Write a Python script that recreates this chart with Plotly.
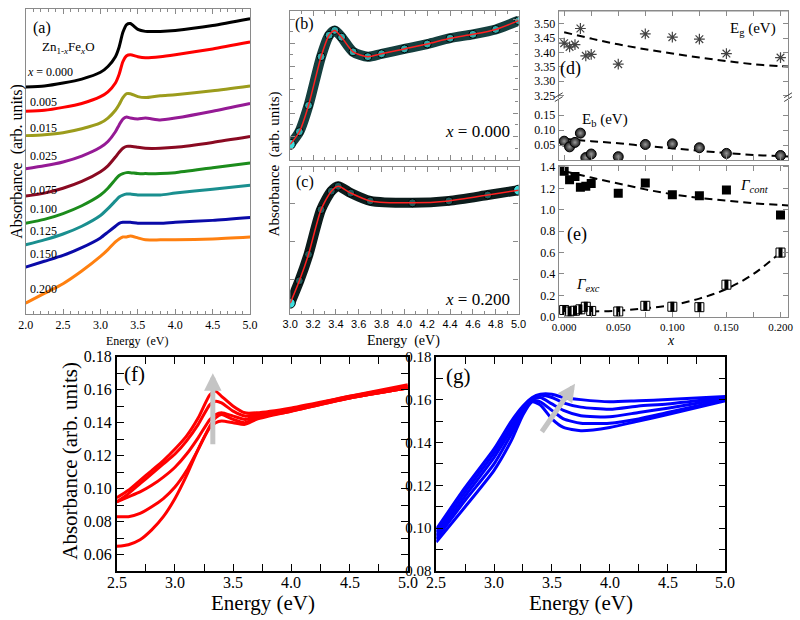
import plotly.graph_objects as go

W, H = 800, 620
def PX(x): return x / W
def PY(y): return 1 - y / H

SERIF = "Liberation Serif, Times New Roman, serif"
SANS = "Liberation Sans, Arial, sans-serif"

# ---------------- panel (a) data ----------------
e_a = [2.0, 2.25, 2.5, 2.75, 3.0, 3.1, 3.2, 3.25, 3.3, 3.35, 3.4, 3.5, 3.6, 3.8, 4.0, 4.5, 5.0]
a_000 = [2.33, 2.34, 2.37, 2.41, 2.48, 2.54, 2.64, 2.74, 2.89, 2.97, 2.98, 2.92, 2.90, 2.90, 2.91, 2.96, 3.03]
a_005 = [2.08, 2.09, 2.12, 2.16, 2.23, 2.28, 2.37, 2.46, 2.59, 2.65, 2.66, 2.64, 2.63, 2.64, 2.66, 2.72, 2.79]
a_015 = [1.83, 1.84, 1.86, 1.90, 1.96, 2.01, 2.09, 2.15, 2.22, 2.26, 2.26, 2.23, 2.22, 2.24, 2.25, 2.29, 2.34]
a_025 = [1.49, 1.52, 1.56, 1.62, 1.71, 1.77, 1.87, 1.94, 2.00, 2.02, 2.01, 2.00, 2.01, 1.99, 2.01, 2.08, 2.16]
a_075 = [1.21, 1.24, 1.29, 1.36, 1.46, 1.52, 1.61, 1.66, 1.70, 1.72, 1.72, 1.71, 1.70, 1.70, 1.71, 1.76, 1.82]
a_100 = [0.93, 0.97, 1.03, 1.11, 1.22, 1.29, 1.38, 1.42, 1.44, 1.45, 1.45, 1.44, 1.44, 1.44, 1.45, 1.50, 1.55]
a_125 = [0.71, 0.76, 0.82, 0.90, 1.01, 1.08, 1.16, 1.20, 1.22, 1.23, 1.23, 1.22, 1.22, 1.22, 1.24, 1.28, 1.32]
a_150 = [0.48, 0.54, 0.60, 0.68, 0.78, 0.84, 0.90, 0.93, 0.94, 0.94, 0.94, 0.93, 0.93, 0.93, 0.94, 0.96, 0.99]
a_200 = [0.11, 0.21, 0.31, 0.44, 0.59, 0.66, 0.74, 0.77, 0.79, 0.79, 0.80, 0.78, 0.76, 0.76, 0.76, 0.77, 0.79]
a_series = [a_000, a_005, a_015, a_025, a_075, a_100, a_125, a_150, a_200]
a_labels = ["<i>x</i> = 0.000", "0.005", "0.015", "0.025", "0.075", "0.100", "0.125", "0.150", "0.200"]
a_colors = ["#000000", "#ff0000", "#9c9c1c", "#951a95", "#8a0a22", "#1c8c1c", "#1a8f8f", "#0a0aa8", "#ff8010"]

# ---------------- panels (b), (c) ----------------
e_b = [3.0, 3.08, 3.16, 3.27, 3.34, 3.39, 3.45, 3.55, 3.68, 3.8, 4.0, 4.2, 4.4, 4.6, 4.8, 5.0]
abs_b = [0.16, 0.29, 0.56, 1.06, 1.28, 1.33, 1.26, 1.11, 1.06, 1.09, 1.14, 1.19, 1.25, 1.29, 1.34, 1.43]
e_c = [3.0, 3.08, 3.16, 3.27, 3.36, 3.42, 3.53, 3.7, 4.07, 4.39, 4.73, 5.0]
abs_c = [0.11, 0.34, 0.61, 1.07, 1.26, 1.31, 1.24, 1.16, 1.14, 1.16, 1.22, 1.27]

# ---------------- panels (d), (e) ----------------
x_conc = [0.0, 0.005, 0.010, 0.015, 0.020, 0.025, 0.050, 0.075, 0.100, 0.125, 0.150, 0.200]
eg = [3.432, 3.419, 3.427, 3.483, 3.388, 3.393, 3.359, 3.464, 3.453, 3.446, 3.396, 3.382]
eb = [0.063, 0.044, 0.059, 0.090, 0.008, 0.020, 0.011, 0.052, 0.054, 0.041, 0.022, 0.015]
g_cont = [1.36, 1.28, 1.31, 1.21, 1.22, 1.245, 1.155, 1.25, 1.14, 1.13, 1.185, 0.95]
g_exc = [0.064, 0.050, 0.057, 0.070, 0.094, 0.055, 0.050, 0.103, 0.094, 0.090, 0.30, 0.60]
x_fit = [0.0, 0.025, 0.05, 0.075, 0.1, 0.125, 0.15, 0.175, 0.2, 0.207]
eg_fit = [3.470, 3.448, 3.428, 3.411, 3.396, 3.382, 3.370, 3.359, 3.352, 3.351]
eb_fit = [0.071, 0.063, 0.056, 0.047, 0.039, 0.031, 0.023, 0.017, 0.013, 0.012]
gcont_fit = [1.36, 1.30, 1.245, 1.19, 1.145, 1.11, 1.085, 1.06, 1.045, 1.04]
x_fit_exc = [0.025, 0.05, 0.075, 0.1, 0.125, 0.15, 0.175, 0.2]
gexc_fit = [0.050, 0.058, 0.080, 0.110, 0.170, 0.260, 0.400, 0.600]

# ---------------- panel (f) ----------------
e_f = [2.5, 2.6, 2.7, 2.8, 2.9, 3.0, 3.1, 3.2, 3.3, 3.35, 3.4, 3.5, 3.6, 3.7, 4.0, 4.5, 5.0]
f1 = [0.0945, 0.099, 0.105, 0.111, 0.117, 0.124, 0.132, 0.143, 0.157, 0.159, 0.156, 0.150, 0.146, 0.146, 0.149, 0.156, 0.163]
f2 = [0.092, 0.097, 0.103, 0.109, 0.115, 0.121, 0.129, 0.139, 0.151, 0.153, 0.152, 0.147, 0.144, 0.145, 0.148, 0.156, 0.162]
f3 = [0.092, 0.095, 0.098, 0.102, 0.107, 0.113, 0.121, 0.131, 0.142, 0.145, 0.146, 0.144, 0.142, 0.144, 0.148, 0.155, 0.161]
f4 = [0.083, 0.083, 0.085, 0.089, 0.094, 0.101, 0.111, 0.124, 0.138, 0.143, 0.145, 0.142, 0.140, 0.143, 0.147, 0.155, 0.161]
f5 = [0.065, 0.066, 0.069, 0.075, 0.083, 0.094, 0.108, 0.124, 0.137, 0.140, 0.141, 0.140, 0.139, 0.142, 0.147, 0.155, 0.161]
f_series = [f1, f2, f3, f4, f5]

# ---------------- panel (g) ----------------
e_g = [2.5, 2.75, 3.0, 3.15, 3.25, 3.33, 3.4, 3.5, 3.6, 3.75, 4.0, 4.25, 4.5, 5.0]
g1 = [0.0995, 0.119, 0.137, 0.150, 0.157, 0.161, 0.1625, 0.1625, 0.161, 0.160, 0.159, 0.1595, 0.160, 0.1615]
g2 = [0.098, 0.117, 0.135, 0.148, 0.156, 0.1605, 0.162, 0.161, 0.1585, 0.1565, 0.1555, 0.157, 0.158, 0.161]
g3 = [0.0965, 0.115, 0.133, 0.146, 0.155, 0.160, 0.161, 0.158, 0.155, 0.1525, 0.152, 0.154, 0.156, 0.1605]
g4 = [0.095, 0.113, 0.130, 0.144, 0.154, 0.1595, 0.159, 0.155, 0.151, 0.149, 0.149, 0.151, 0.154, 0.160]
g5 = [0.0935, 0.110, 0.127, 0.141, 0.153, 0.159, 0.1575, 0.151, 0.147, 0.1455, 0.147, 0.150, 0.153, 0.1595]
g_series = [g1, g2, g3, g4, g5]

# x tick labels of (f) and (g)
fg_xticks = [2.5, 3.0, 3.5, 4.0, 4.5, 5.0]

fig = go.Figure()

# (a)
for ys, c in zip(a_series, a_colors):
    fig.add_trace(go.Scatter(x=e_a, y=ys, mode="lines", line=dict(color=c, width=3, shape="spline", smoothing=0.6),
                             xaxis="x", yaxis="y", showlegend=False))
# (b)
fig.add_trace(go.Scatter(x=e_b, y=abs_b, mode="lines", line=dict(color="#153f3f", width=10, shape="spline", smoothing=0.7),
                         xaxis="x2", yaxis="y2", showlegend=False))
fig.add_trace(go.Scatter(x=e_b, y=abs_b, mode="markers", marker=dict(size=8, color="#2fa8a8", line=dict(color="#000", width=1)),
                         xaxis="x2", yaxis="y2", showlegend=False))
fig.add_trace(go.Scatter(x=[e_b[0]], y=[abs_b[0]], mode="markers",
                         marker=dict(size=10, color="#40dede", line=dict(color="#000", width=1)),
                         xaxis="x2", yaxis="y2", showlegend=False))
fig.add_trace(go.Scatter(x=e_b, y=abs_b, mode="lines", line=dict(color="#ff2020", width=1.5, shape="spline", smoothing=0.7),
                         xaxis="x2", yaxis="y2", showlegend=False))
# (c)
fig.add_trace(go.Scatter(x=e_c, y=abs_c, mode="lines", line=dict(color="#0c1c1c", width=10, shape="spline", smoothing=0.7),
                         xaxis="x3", yaxis="y3", showlegend=False))
fig.add_trace(go.Scatter(x=e_c, y=abs_c, mode="markers", marker=dict(size=8, color="#1f5a5a", line=dict(color="#000", width=1)),
                         xaxis="x3", yaxis="y3", showlegend=False))
fig.add_trace(go.Scatter(x=[e_c[0], e_c[-1]], y=[abs_c[0], abs_c[-1]], mode="markers",
                         marker=dict(size=10, color="#40dede", line=dict(color="#000", width=1)),
                         xaxis="x3", yaxis="y3", showlegend=False))
fig.add_trace(go.Scatter(x=e_c, y=abs_c, mode="lines", line=dict(color="#ff2020", width=1.5, shape="spline", smoothing=0.7),
                         xaxis="x3", yaxis="y3", showlegend=False))
# (d) upper: Eg
fig.add_trace(go.Scatter(x=x_fit, y=eg_fit, mode="lines", line=dict(color="#000", width=2, dash="8px,5px", shape="spline"),
                         xaxis="x5", yaxis="y5", showlegend=False))
fig.add_trace(go.Scatter(x=x_conc, y=eg, mode="markers",
                         marker=dict(symbol="asterisk-open", size=9, color="#444", line=dict(color="#444", width=1.2)),
                         xaxis="x5", yaxis="y5", showlegend=False))
# (d) lower: Eb
fig.add_trace(go.Scatter(x=x_fit, y=eb_fit, mode="lines", line=dict(color="#000", width=2, dash="8px,5px", shape="spline"),
                         xaxis="x4", yaxis="y4", showlegend=False))
fig.add_trace(go.Scatter(x=x_conc, y=eb, mode="markers",
                         marker=dict(symbol="circle", size=10, color="#1a1a1a", gradient=dict(type="radial", color="#9a9a9a"),
                                     line=dict(color="#000", width=1)),
                         xaxis="x4", yaxis="y4", showlegend=False))
# (e)
fig.add_trace(go.Scatter(x=x_fit, y=gcont_fit, mode="lines", line=dict(color="#000", width=2, dash="8px,5px", shape="spline"),
                         xaxis="x6", yaxis="y6", showlegend=False))
fig.add_trace(go.Scatter(x=x_fit_exc, y=gexc_fit, mode="lines", line=dict(color="#000", width=2, dash="8px,5px", shape="spline"),
                         xaxis="x6", yaxis="y6", showlegend=False))
fig.add_trace(go.Scatter(x=x_conc, y=g_cont, mode="markers", marker=dict(symbol="square", size=9, color="#000"),
                         xaxis="x6", yaxis="y6", showlegend=False))
fig.add_trace(go.Scatter(x=x_conc, y=g_exc, mode="markers",
                         marker=dict(symbol="square", size=9, color="#ffffff", line=dict(color="#000", width=1)),
                         xaxis="x6", yaxis="y6", showlegend=False))
fig.add_trace(go.Scatter(x=x_conc, y=g_exc, mode="markers",
                         marker=dict(symbol="line-ns", size=7, line=dict(color="#000", width=4)),
                         xaxis="x6", yaxis="y6", showlegend=False))
# (f)
for ys in f_series:
    fig.add_trace(go.Scatter(x=e_f, y=ys, mode="lines", line=dict(color="#ff0000", width=3, shape="spline", smoothing=0.6),
                             xaxis="x7", yaxis="y7", showlegend=False))
# (g)
for ys in g_series:
    fig.add_trace(go.Scatter(x=e_g, y=ys, mode="lines", line=dict(color="#0000ff", width=3, shape="spline", smoothing=0.6),
                             xaxis="x8", yaxis="y8", showlegend=False))

GRAY = "#8a8a8a"

def axis(domain, rng, anchor, color=GRAY, font=None, labels=True, ticks="inside", mirror="ticks", **kw):
    d = dict(domain=domain, range=rng, anchor=anchor, showgrid=False, zeroline=False,
             showline=True, linecolor=color, linewidth=1.2, mirror=mirror,
             ticks=ticks, ticklen=5, tickwidth=1, tickcolor=color,
             showticklabels=labels, tickfont=font or dict(family=SERIF, size=12, color="#000"))
    d.update(kw)
    return d

fa = dict(family=SERIF, size=12, color="#000")
fbc = dict(family=SANS, size=11, color="#000")
fd = dict(family=SERIF, size=12, color="#000")
ffg = dict(family=SERIF, size=16, color="#000")
fg8 = dict(family=SERIF, size=15, color="#000")

layout = dict(
    width=W, height=H, margin=dict(l=0, r=0, t=0, b=0),
    font=dict(family=SERIF, size=12, color="#000"),
    paper_bgcolor="white", plot_bgcolor="white", showlegend=False,
    # (a)
    xaxis=axis([PX(18), PX(247)], [2.0, 5.0], "y", font=fa, dtick=0.5, tickformat=".1f",
               minor=dict(dtick=0.1, ticks="inside", ticklen=3, tickcolor=GRAY)),
    yaxis=axis([PY(314), PY(1)], [0, 3.13], "x", ticks="", labels=False, mirror=True),
    # (b)
    xaxis2=axis([PX(288), PX(521)], [3.0, 5.0], "y2", labels=False, dtick=0.2,
                minor=dict(dtick=0.1, ticks="inside", ticklen=3, tickcolor=GRAY)),
    yaxis2=axis([PY(156), PY(3)], [0, 1.53], "x2", labels=False, tick0=0, dtick=0.24,
                minor=dict(dtick=0.12, ticks="inside", ticklen=3, tickcolor=GRAY)),
    # (c)
    xaxis3=axis([PX(288), PX(521)], [3.0, 5.0], "y3", font=fbc, dtick=0.2, tickformat=".1f",
                minor=dict(dtick=0.1, ticks="inside", ticklen=3, tickcolor=GRAY)),
    yaxis3=axis([PY(314), PY(163)], [0, 1.51], "x3", labels=False, tick0=0.35, dtick=0.39),
    # (d) lower
    xaxis4=axis([PX(562), PX(796)], [-0.005, 0.207], "y4", labels=False, mirror=False, tick0=0, dtick=0.025),
    yaxis4=axis([PY(156), PY(94)], [0, 0.2026], "x4", font=fd, tickvals=[0.05, 0.10, 0.15], tickformat=".2f"),
    # (d) upper
    xaxis5=axis([PX(562), PX(796)], [-0.005, 0.207], "y5", labels=False, mirror=False, side="top", tick0=0, dtick=0.025),
    yaxis5=axis([PY(92), PY(3)], [3.243, 3.544], "x5", font=fd, tickvals=[3.25, 3.30, 3.35, 3.40, 3.45, 3.50],
                tickformat=".2f"),
    # (e)
    xaxis6=axis([PX(562), PX(796)], [-0.005, 0.207], "y6", font=dict(family=SERIF, size=11, color="#000"),
                tickvals=[0.0, 0.05, 0.1, 0.15, 0.2], tickformat=".3f",
                minor=dict(tickvals=[0.025, 0.075, 0.125, 0.175], ticks="inside", ticklen=5, tickcolor=GRAY)),
    yaxis6=axis([PY(317), PY(162)], [0, 1.41], "x6", font=fd, dtick=0.2, tickformat=".1f"),
    # (f)
    xaxis7=axis([PX(111), PX(408)], [2.5, 5.0], "y7", color="#000", labels=False, tickvals=fg_xticks,
                linewidth=1.5, ticklen=7, minor=dict(dtick=0.25, ticks="inside", ticklen=7, tickcolor="#000")),
    yaxis7=axis([PY(578), PY(358)], [0.05, 0.18], "x7", color="#000", font=ffg, tick0=0.06, dtick=0.02,
                tickformat=".2f", linewidth=1.5, ticklen=7,
                minor=dict(dtick=0.01, ticks="inside", ticklen=7, tickcolor="#000")),
    # (g)
    xaxis8=axis([PX(437), PX(732)], [2.5, 5.0], "y8", color="#000", labels=False, tickvals=fg_xticks,
                linewidth=1.5, ticklen=7, minor=dict(dtick=0.25, ticks="inside", ticklen=7, tickcolor="#000")),
    yaxis8=axis([PY(578), PY(358)], [0.08, 0.18], "x8", color="#000", font=fg8, dtick=0.02,
                tickformat=".2f", linewidth=1.5, ticklen=7,
                minor=dict(dtick=0.01, ticks="inside", ticklen=7, tickcolor="#000")),
)
fig.update_layout(**layout)

ann = []
def note(x, y, text, size=12, xanchor="center", yanchor="middle", angle=0, family=SERIF):
    ann.append(dict(x=PX(x), y=PY(y), xref="paper", yref="paper", text=text, showarrow=False,
                    xanchor=xanchor, yanchor=yanchor, textangle=angle,
                    font=dict(family=family, size=size, color="#000")))

# (a) texts
note(35, 21, "(a)", 16)
note(62, 41, "Zn<sub>1-<i>x</i></sub>Fe<sub><i>x</i></sub>O", 13)
lab_y = [66, 97, 123, 152, 187, 206, 229, 253, 288]
for i, (t, yy) in enumerate(zip(a_labels, lab_y)):
    note(17 if i == 0 else 20, yy, t, 12, xanchor="left")
note(132, 342, "Energy  (eV)", 12)
note(9, 157, "Absorbance  (arb. units)", 16, angle=-90)
# (b),(c)
note(303, 16, "(b)", 16)
note(303, 179, "(c)", 16)
note(514, 127, "<i>x</i> = 0.000", 17, xanchor="right")
note(514, 299, "<i>x</i> = 0.200", 17, xanchor="right")
note(272, 160, "Absorbance  (arb. units)", 15, angle=-90)
note(404, 342, "Energy  (eV)", 14)
# (d),(e)
note(574, 62, "(d)", 18)
note(760, 22, "E<sub>g</sub> (eV)", 15)
note(609, 115, "E<sub>b</sub> (eV)", 15)
note(581, 232, "(e)", 18)
note(762, 183, "<i>Γ</i><sub><i>cont</i></sub>", 15)
note(592, 284, "<i>Γ</i><sub><i>exc</i></sub>", 15)
note(677, 341, "<i>x</i>", 14)
# (f),(g)
note(129, 376, "(f)", 21)
note(460, 378, "(g)", 21)
note(260, 611, "Energy (eV)", 21)
note(585, 611, "Energy (eV)", 21)
note(63, 465, "Absorbance (arb. units)", 21, angle=-90)

# x tick labels of (f) and (g), placed on the axes' own scale
for xa in ("x7", "x8"):
    for v in fg_xticks:
        ann.append(dict(x=v, y=PY(590), xref=xa, yref="paper", text=f"{v:.1f}", showarrow=False,
                        xanchor="center", yanchor="middle", font=dict(family=SERIF, size=16, color="#000")))

# arrows
ann.append(dict(x=3.325, y=0.170, ax=3.325, ay=0.126, xref="x7", yref="y7", axref="x7", ayref="y7",
                text="", showarrow=True, arrowhead=2, arrowsize=0.7, arrowwidth=5, arrowcolor="#c4c4c4"))
ann.append(dict(x=3.70, y=0.1674, ax=3.404, ay=0.1443, xref="x8", yref="y8", axref="x8", ayref="y8",
                text="", showarrow=True, arrowhead=2, arrowsize=0.7, arrowwidth=5, arrowcolor="#c4c4c4"))
fig.update_layout(annotations=ann)

# top edge of (d) and axis break marks
shapes = [
    dict(type="line", xref="paper", yref="paper", x0=PX(562), x1=PX(796), y0=PY(3), y1=PY(3),
         line=dict(color=GRAY, width=1.2)),
]
for xb in (562, 796):
    for dy in (0, 4):
        shapes.append(dict(type="line", xref="paper", yref="paper", x0=PX(xb - 4), x1=PX(xb + 4),
                           y0=PY(96 - dy), y1=PY(91 - dy), line=dict(color="#444", width=1)))
fig.update_layout(shapes=shapes)

fig.write_html("out.html")
